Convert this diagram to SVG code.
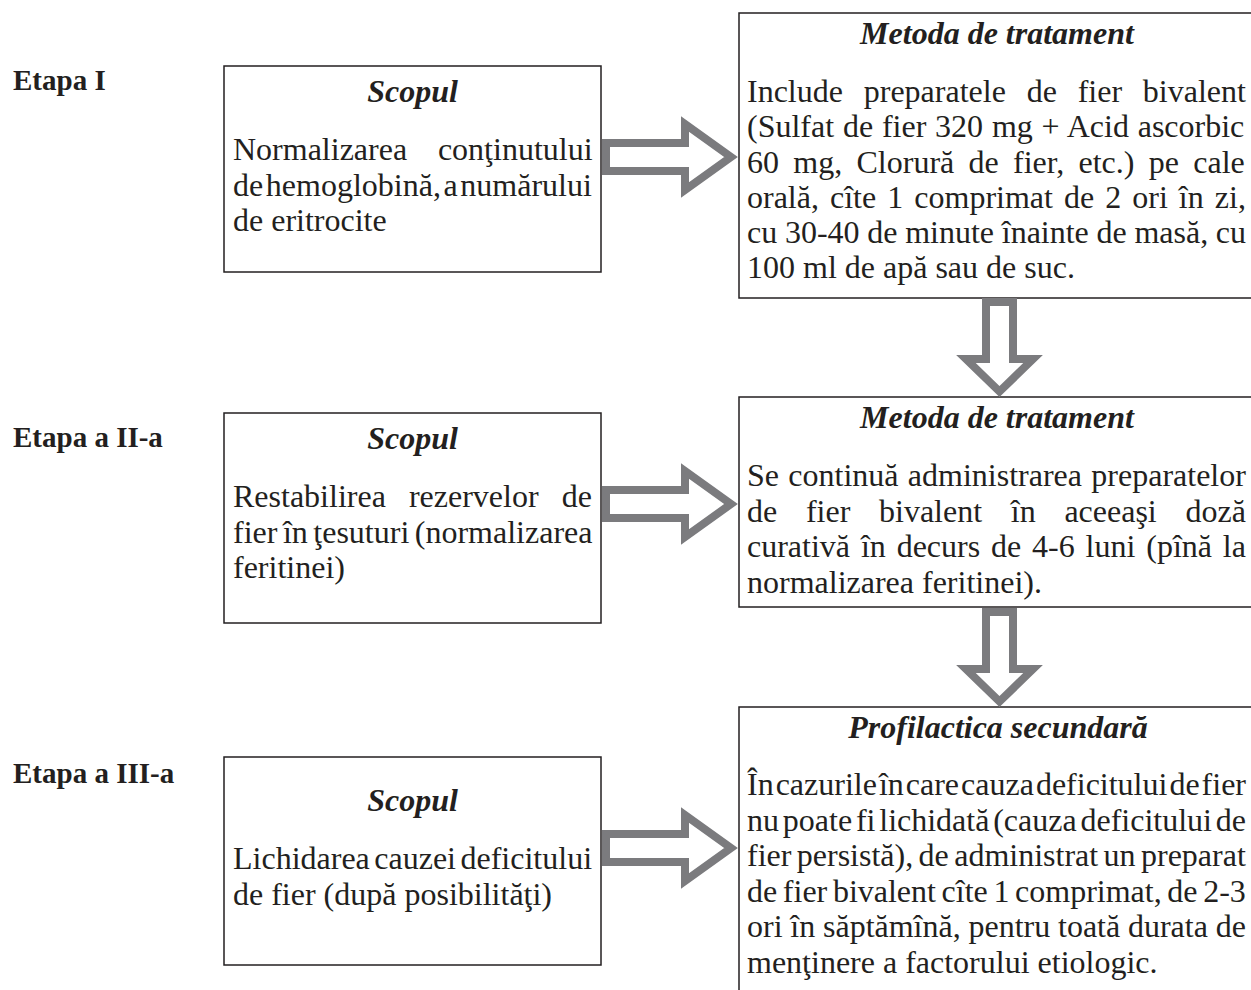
<svg xmlns="http://www.w3.org/2000/svg" xmlns:xlink="http://www.w3.org/1999/xlink" width="1251" height="990" viewBox="0 0 1251 990">
<style>
.box{fill:#fff;stroke:#231f20;stroke-width:1.5}
.arr{fill:#fff;stroke:#7b7b7e;stroke-width:8;stroke-linejoin:miter;stroke-miterlimit:10}
text{font-family:"Liberation Serif","Times New Roman",serif;font-size:32px;fill:#231f20;font-variant-ligatures:none}
.h{font-weight:bold;font-style:italic;text-anchor:middle}
.e{font-weight:bold;font-size:29px}
</style>
<defs>
<path id="ra" d="M606,-14 H685 V-33 L731,0 L685,33 V14 H606 Z"/>
<path id="da" d="M986,302 V359 H966 L999.5,391.5 L1033,359 H1013 V302 Z"/>
</defs>
<rect width="1251" height="990" fill="#fff"/>

<g id="labels">
<text class="e" x="13" y="90">Etapa I</text>
<text class="e" x="13" y="447">Etapa a II-a</text>
<text class="e" x="13" y="783">Etapa a III-a</text>
</g>

<g id="scop1">
<rect class="box" x="224" y="66" width="377" height="206"/>
<text class="h" x="412.5" y="102">Scopul</text>
<text x="233" y="160" word-spacing="22.8">Normalizarea conţinutului</text>
<text x="233" y="195.5" word-spacing="-5.4">de hemoglobină, a numărului</text>
<text x="233" y="231">de eritrocite</text>
</g>

<g id="metoda1">
<rect class="box" x="739" y="13" width="520" height="285"/>
<text class="h" x="997" y="44">Metoda de tratament</text>
<text x="747" y="102" word-spacing="12.8">Include preparatele de fier bivalent</text>
<text x="747" y="137" word-spacing="0.8">(Sulfat de fier 320 mg + Acid ascorbic</text>
<text x="747" y="172.5" word-spacing="6.3">60 mg, Clorură de fier, etc.) pe cale</text>
<text x="747" y="207.5" word-spacing="3.05">orală, cîte 1 comprimat de 2 ori în zi,</text>
<text x="747" y="242.5" word-spacing="-0.3">cu 30-40 de minute înainte de masă, cu</text>
<text x="747" y="277.5">100 ml de apă sau de suc.</text>
</g>

<g id="scop2">
<rect class="box" x="224" y="413" width="377" height="210"/>
<text class="h" x="412.5" y="449">Scopul</text>
<text x="233" y="507" word-spacing="15.1">Restabilirea rezervelor de</text>
<text x="233" y="542.5" word-spacing="-2.5">fier în ţesuturi (normalizarea</text>
<text x="233" y="578">feritinei)</text>
</g>

<g id="metoda2">
<rect class="box" x="739" y="397" width="520" height="210"/>
<text class="h" x="997" y="428">Metoda de tratament</text>
<text x="747" y="486" word-spacing="1.33">Se continuă administrarea preparatelor</text>
<text x="747" y="521.5" word-spacing="20.7">de fier bivalent în aceeaşi doză</text>
<text x="747" y="557" word-spacing="2.86">curativă în decurs de 4-6 luni (pînă la</text>
<text x="747" y="592.5">normalizarea feritinei).</text>
</g>

<g id="scop3">
<rect class="box" x="224" y="757" width="377" height="208"/>
<text class="h" x="412.5" y="811">Scopul</text>
<text x="233" y="869" word-spacing="-3.5">Lichidarea cauzei deficitului</text>
<text x="233" y="904.5">de fier (după posibilităţi)</text>
</g>

<g id="profilactica">
<rect class="box" x="739" y="707" width="520" height="300"/>
<text class="h" x="998" y="738">Profilactica secundară</text>
<text x="747" y="795" word-spacing="-6">În cazurile în care cauza deficitului de fier</text>
<text x="747" y="830.5" word-spacing="-4.2">nu poate fi lichidată (cauza deficitului de</text>
<text x="747" y="866" word-spacing="-2.6">fier persistă), de administrat un preparat</text>
<text x="747" y="901.5" word-spacing="-2.36">de fier bivalent cîte 1 comprimat, de 2-3</text>
<text x="747" y="937" word-spacing="-0.23">ori în săptămînă, pentru toată durata de</text>
<text x="747" y="972.5">menţinere a factorului etiologic.</text>
</g>

<g id="connectors">
<use xlink:href="#ra" class="arr" transform="translate(0,157)"/>
<use xlink:href="#ra" class="arr" transform="translate(0,504)"/>
<use xlink:href="#ra" class="arr" transform="translate(0,848)"/>
<use xlink:href="#da" class="arr"/>
<use xlink:href="#da" class="arr" transform="translate(0,310)"/>
</g>
</svg>
